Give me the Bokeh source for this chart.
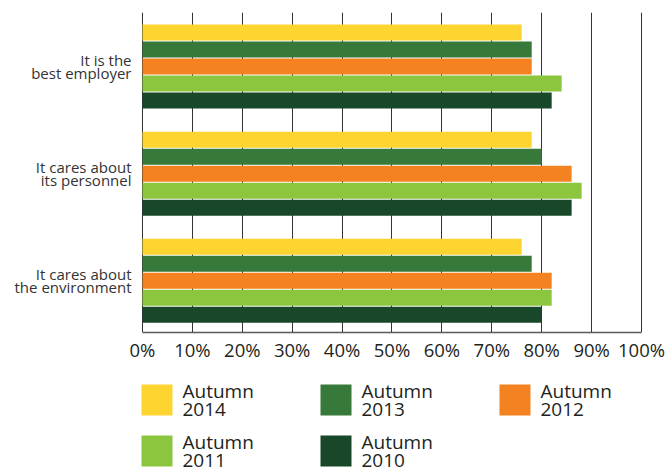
from bokeh.plotting import figure
from bokeh.layouts import column
from bokeh.models import Range1d, FixedTicker, ColumnDataSource
from bokeh.core.properties import value
from bokeh.embed import file_html
from bokeh.resources import INLINE

# ---- data ----
categories = ["It is the\nbest employer", "It cares about\nits personnel", "It cares about\nthe environment"]
series = ["Autumn\n2014", "Autumn\n2013", "Autumn\n2012", "Autumn\n2011", "Autumn\n2010"]
v2014 = [76, 78, 76]
v2013 = [78, 80, 78]
v2012 = [78, 86, 82]
v2011 = [84, 88, 82]
v2010 = [82, 86, 80]
x_ticks = [0, 10, 20, 30, 40, 50, 60, 70, 80, 90, 100]
x_tick_labels = ["0%", "10%", "20%", "30%", "40%", "50%", "60%", "70%", "80%", "90%", "100%"]

values = [v2014, v2013, v2012, v2011, v2010]
colors = ["#FED530", "#37793B", "#F48220", "#8CC63F", "#19472A"]

FONT = "Open Sans"
TXT = "#231F20"

GROUP_PITCH = 6.3  # slots per category (5 bars + gap)
BAR_H = 0.94
LEFT = 137
RIGHT = 25
MAIN_H = 364

p = figure(width=669, height=MAIN_H, output_backend="svg", toolbar_location=None,
           x_range=Range1d(-1.0, 100.6), y_range=Range1d(17.64, -1.18),
           min_border_left=LEFT, min_border_right=RIGHT, min_border_top=12,
           min_border_bottom=32)
p.outline_line_color = None
p.background_fill_color = "white"
p.border_fill_color = "white"

for j, (vals, col) in enumerate(zip(values, colors)):
    ys = [i * GROUP_PITCH + j for i in range(len(categories))]
    p.hbar(y=ys, left=0, right=vals, height=BAR_H, fill_color=col, line_color=None)

# x axis
p.xaxis.ticker = FixedTicker(ticks=x_ticks)
p.xaxis.major_label_overrides = {t: l for t, l in zip(x_ticks, x_tick_labels)}
p.xaxis.bounds = (0, 100)
p.xaxis.axis_line_color = "#5a5a5a"
p.xaxis.axis_line_width = 1.5
p.xaxis.major_tick_line_color = None
p.xaxis.major_tick_out = 0
p.xaxis.major_tick_in = 0
p.xaxis.minor_tick_line_color = None
p.xaxis.major_label_standoff = 4
p.xaxis.major_label_text_font = FONT
p.xaxis.major_label_text_font_size = "18.5px"
p.xaxis.major_label_text_color = TXT

# y axis
centers = [i * GROUP_PITCH + 2 for i in range(len(categories))]
p.yaxis.ticker = FixedTicker(ticks=centers)
p.yaxis.major_label_overrides = {c: l for c, l in zip(centers, categories)}
p.yaxis.axis_line_color = None
p.yaxis.major_tick_line_color = None
p.yaxis.major_tick_out = 0
p.yaxis.major_tick_in = 0
p.yaxis.minor_tick_line_color = None
p.yaxis.major_label_standoff = 6
p.yaxis.major_label_text_font = FONT
p.yaxis.major_label_text_font_size = "15px"
p.yaxis.major_label_text_line_height = 0.64
p.yaxis.major_label_text_color = "#333333"

# grid
p.xgrid.ticker = FixedTicker(ticks=x_ticks)
p.xgrid.grid_line_color = "#333333"
p.xgrid.grid_line_width = 1
p.ygrid.grid_line_color = None

# ---- legend panel (screen-pixel coordinates) ----
LG_H = 468 - MAIN_H
lg = figure(width=669, height=LG_H, output_backend="svg", toolbar_location=None,
            x_range=Range1d(LEFT, 669 - RIGHT), y_range=Range1d(MAIN_H + LG_H, MAIN_H),
            min_border_left=LEFT, min_border_right=RIGHT, min_border_top=0, min_border_bottom=0,
            x_axis_type=None, y_axis_type=None)
lg.outline_line_color = None
lg.grid.grid_line_color = None

COL_PITCH, ROW_PITCH = 179, 51
SW_X0, SW_Y0, SW = 141, 384, 31
cols = [k % 3 for k in range(len(series))]
rows = [k // 3 for k in range(len(series))]
src = ColumnDataSource(dict(
    sx=[SW_X0 + SW / 2 + c * COL_PITCH for c in cols],
    sy=[SW_Y0 + SW / 2 + r * ROW_PITCH for r in rows],
    tx=[SW_X0 + SW + 10 + c * COL_PITCH for c in cols],
    label=series, color=colors))
lg.rect(x="sx", y="sy", width=SW, height=SW, width_units="screen", height_units="screen",
        fill_color="color", line_color=None, source=src)
lg.text(x="tx", y="sy", text="label", source=src, text_font=value(FONT),
        text_font_size="19px", text_line_height=0.707, text_color=TXT,
        text_baseline="middle", text_align="left")

layout = column(p, lg, spacing=0)
open("out.html", "w").write(file_html(layout, INLINE))
